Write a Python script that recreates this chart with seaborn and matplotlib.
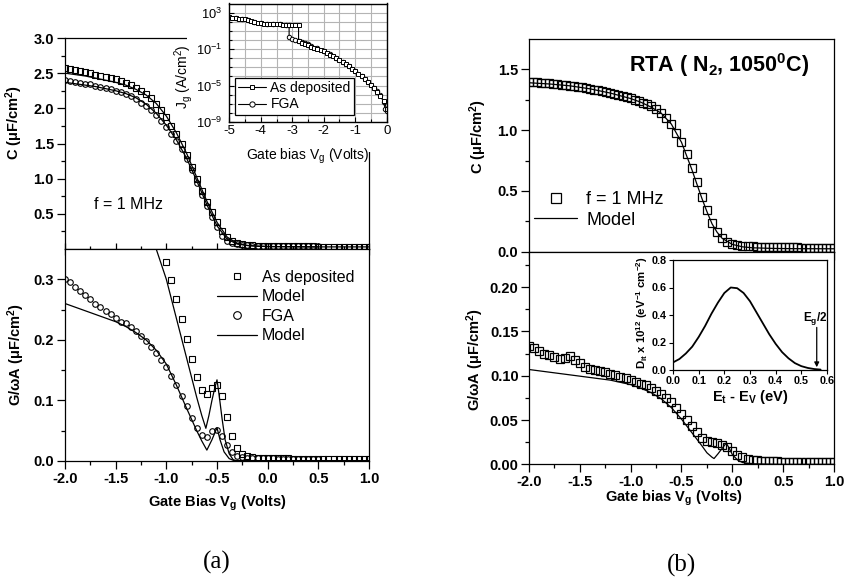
import matplotlib
matplotlib.use("Agg")
import matplotlib.pyplot as plt
import seaborn as sns
from matplotlib.lines import Line2D
from matplotlib.patches import Rectangle

# ---------------- data ----------------
# panel (a) top: C-V
va_c = [-2.00, -1.95, -1.90, -1.85, -1.80, -1.75, -1.70, -1.65, -1.60, -1.55,
        -1.50, -1.45, -1.40, -1.35, -1.30, -1.25, -1.20, -1.15, -1.10, -1.05,
        -1.00, -0.95, -0.90, -0.85, -0.80, -0.75, -0.70, -0.65, -0.60, -0.55,
        -0.50, -0.45, -0.40, -0.35, -0.30, -0.25, -0.20, -0.15, -0.10, -0.05,
        0.00, 0.05, 0.10, 0.15, 0.20, 0.25, 0.30, 0.35, 0.40, 0.45,
        0.50, 0.55, 0.60, 0.65, 0.70, 0.75, 0.80, 0.85, 0.90, 0.95, 1.00]
c_asdep = [2.57, 2.56, 2.54, 2.53, 2.51, 2.50, 2.48, 2.46, 2.45, 2.43,
           2.41, 2.39, 2.36, 2.33, 2.29, 2.25, 2.20, 2.14, 2.06, 1.97,
           1.87, 1.75, 1.63, 1.50, 1.34, 1.17, 1.00, 0.83, 0.67, 0.52,
           0.38, 0.26, 0.17, 0.11, 0.08, 0.065, 0.056, 0.050, 0.046, 0.043,
           0.041, 0.040, 0.039, 0.038, 0.038, 0.037, 0.037, 0.036, 0.036, 0.036,
           0.035, 0.035, 0.035, 0.035, 0.034, 0.034, 0.034, 0.034, 0.034, 0.033, 0.033]
va_c_fga = [-2.00, -1.95, -1.90, -1.85, -1.80, -1.75, -1.70, -1.65, -1.60, -1.55,
            -1.50, -1.45, -1.40, -1.35, -1.30, -1.25, -1.20, -1.15, -1.10, -1.05,
            -1.00, -0.95, -0.90, -0.85, -0.80, -0.75, -0.70, -0.65, -0.60, -0.55,
            -0.50, -0.45, -0.40, -0.35, -0.30, -0.25, -0.20, -0.15, -0.10, -0.05,
            0.00, 0.05, 0.10, 0.15, 0.20, 0.25, 0.30, 0.35, 0.40, 0.45, 0.50]
c_fga = [2.40, 2.39, 2.38, 2.36, 2.35, 2.34, 2.32, 2.31, 2.29, 2.27,
         2.25, 2.23, 2.20, 2.17, 2.13, 2.08, 2.03, 1.97, 1.90, 1.82,
         1.74, 1.64, 1.54, 1.42, 1.28, 1.12, 0.94, 0.77, 0.61, 0.46,
         0.31, 0.19, 0.12, 0.085, 0.065, 0.055, 0.050, 0.047, 0.045, 0.043,
         0.042, 0.041, 0.040, 0.040, 0.039, 0.039, 0.038, 0.038, 0.038, 0.037, 0.037]
vm_c = [-2.0, -1.9, -1.8, -1.7, -1.6, -1.5, -1.4, -1.3, -1.2, -1.1, -1.0, -0.9,
        -0.8, -0.7, -0.6, -0.5, -0.4, -0.3, -0.2, -0.1, 0.0, 0.5, 1.0]
c_model_asdep = [2.50, 2.48, 2.46, 2.43, 2.40, 2.37, 2.33, 2.27, 2.19, 2.07, 1.89, 1.65,
                 1.36, 1.02, 0.68, 0.38, 0.17, 0.08, 0.05, 0.04, 0.035, 0.03, 0.03]
vm_c_fga = [-2.0, -1.9, -1.8, -1.7, -1.6, -1.5, -1.4, -1.3, -1.2, -1.1, -1.0, -0.9,
            -0.8, -0.7, -0.6, -0.5, -0.4, -0.3, -0.2, -0.1, 0.0, 0.5]
c_model_fga = [2.37, 2.35, 2.33, 2.31, 2.28, 2.25, 2.21, 2.15, 2.06, 1.93, 1.76, 1.55,
               1.29, 0.97, 0.63, 0.33, 0.14, 0.07, 0.05, 0.04, 0.035, 0.03]

# panel (a) bottom: G/wA-V
va_g = [-1.00, -0.95, -0.90, -0.85, -0.80, -0.75, -0.70, -0.65, -0.60, -0.55,
        -0.50, -0.45, -0.40, -0.35, -0.30, -0.25, -0.20, -0.15, -0.10, -0.05,
        0.00, 0.05, 0.10, 0.15, 0.20, 0.25, 0.30, 0.35, 0.40, 0.45,
        0.50, 0.55, 0.60, 0.65, 0.70, 0.75, 0.80, 0.85, 0.90, 0.95, 1.00]
g_asdep = [0.328, 0.299, 0.268, 0.235, 0.202, 0.169, 0.138, 0.118, 0.111, 0.121,
           0.125, 0.107, 0.072, 0.041, 0.022, 0.012, 0.008, 0.006, 0.005, 0.005,
           0.0045, 0.0045, 0.0044, 0.0043, 0.0042, 0.0041, 0.004, 0.004, 0.004, 0.0039,
           0.0039, 0.0038, 0.0038, 0.0037, 0.0037, 0.0036, 0.0036, 0.0036, 0.0035, 0.0035, 0.0035]
va_g_fga = va_c_fga
g_fga = [0.301, 0.295, 0.288, 0.281, 0.274, 0.267, 0.260, 0.254, 0.248, 0.242,
         0.236, 0.230, 0.228, 0.222, 0.214, 0.206, 0.198, 0.189, 0.179, 0.167,
         0.155, 0.141, 0.125, 0.108, 0.090, 0.071, 0.054, 0.043, 0.040, 0.049,
         0.051, 0.041, 0.027, 0.015, 0.008, 0.006, 0.005, 0.005, 0.0045, 0.0045,
         0.0042, 0.0042, 0.0041, 0.004, 0.004, 0.004, 0.004, 0.004, 0.004, 0.004, 0.004]
vm_g_asdep = [-1.20, -1.10, -1.00, -0.90, -0.80, -0.70, -0.65, -0.61, -0.58, -0.55,
              -0.52, -0.50, -0.48, -0.45, -0.42, -0.38, -0.34, -0.30, 1.00]
g_model_asdep = [0.405, 0.350, 0.300, 0.235, 0.170, 0.105, 0.075, 0.054, 0.075, 0.100,
                 0.122, 0.134, 0.110, 0.070, 0.035, 0.012, 0.002, 0.0005, 0.0005]
vm_g_fga = [-2.0, -1.9, -1.8, -1.7, -1.6, -1.5, -1.4, -1.3, -1.2, -1.1, -1.0, -0.9,
            -0.8, -0.7, -0.65, -0.6, -0.55, -0.5, -0.47, -0.43, -0.38, -0.33, 1.0]
g_model_fga = [0.260, 0.254, 0.248, 0.242, 0.236, 0.230, 0.222, 0.212, 0.200, 0.183,
               0.160, 0.125, 0.087, 0.050, 0.033, 0.018, 0.035, 0.055, 0.035, 0.015,
               0.004, 0.0005, 0.0005]

# panel (a) inset: leakage current
vj_asdep = [-5.0, -4.9, -4.8, -4.7, -4.6, -4.5, -4.4, -4.3, -4.2, -4.1, -4.0, -3.9,
            -3.8, -3.7, -3.6, -3.5, -3.4, -3.3, -3.2, -3.1, -3.0, -2.9, -2.8, -2.8,
            -2.7, -2.6, -2.5, -2.4, -2.3, -2.2, -2.1, -2.0, -1.9, -1.8, -1.7, -1.6,
            -1.5, -1.4, -1.3, -1.2, -1.1, -1.0, -0.9, -0.8, -0.7, -0.6, -0.5, -0.4,
            -0.3, -0.2, -0.1, 0.0]
jg_asdep = [3.2e2, 2.8e2, 2.5e2, 2.2e2, 2.0e2, 1.8e2, 1.6e2, 1.3e2, 1.0e2, 8.0e1, 7.0e1, 6.3e1,
            6.0e1, 5.7e1, 5.5e1, 5.2e1, 5.0e1, 4.9e1, 4.8e1, 4.7e1, 4.6e1, 4.5e1, 4.4e1, 7.0e-1,
            5.0e-1, 3.6e-1, 2.6e-1, 1.9e-1, 1.4e-1, 1.0e-1, 7.5e-2, 5.5e-2, 3.6e-2, 2.4e-2, 1.6e-2, 1.0e-2,
            6.0e-3, 3.6e-3, 2.2e-3, 1.3e-3, 6.5e-4, 3.5e-4, 1.9e-4, 1.0e-4, 5.0e-5, 2.5e-5, 1.2e-5, 5.5e-6,
            2.2e-6, 8.0e-7, 2.0e-7, 3.0e-8]
vj_fga = [-5.0, -4.8, -4.6, -4.4, -4.2, -4.0, -3.8, -3.6, -3.4, -3.2, -3.1, -3.1,
          -3.0, -2.9, -2.8, -2.7, -2.6, -2.5, -2.4, -2.2, -2.0, -1.8, -1.6, -1.4,
          -1.2, -1.0, -0.8, -0.6, -0.4, -0.3, -0.2, -0.1, -0.05, 0.0]
jg_fga = [3.2e2, 2.5e2, 2.0e2, 1.6e2, 1.0e2, 7.0e1, 6.0e1, 5.5e1, 5.0e1, 4.8e1, 4.7e1, 1.9e0,
          1.3e0, 9.5e-1, 7.5e-1, 6.0e-1, 4.5e-1, 3.4e-1, 2.4e-1, 1.2e-1, 6.0e-2, 2.6e-2, 1.1e-2, 4.0e-3,
          1.4e-3, 4.0e-4, 1.0e-4, 2.7e-5, 6.0e-6, 2.4e-6, 9.0e-7, 1.5e-7, 3.0e-8, 1.6e-8]

# panel (b) top: C-V after RTA
vb_c = [-2.00, -1.96, -1.92, -1.88, -1.84, -1.80, -1.76, -1.72, -1.68, -1.64,
        -1.60, -1.56, -1.52, -1.48, -1.44, -1.40, -1.36, -1.32, -1.28, -1.24,
        -1.20, -1.16, -1.12, -1.08, -1.04, -1.00, -0.96, -0.92, -0.88, -0.84, -0.80,
        -0.75, -0.70, -0.65, -0.60, -0.55, -0.50, -0.45, -0.40, -0.35, -0.30,
        -0.25, -0.20, -0.15, -0.10, -0.05, 0.00, 0.05, 0.10, 0.15,
        0.20, 0.24, 0.28, 0.32, 0.36, 0.40, 0.44, 0.48, 0.52, 0.56,
        0.60, 0.64, 0.68, 0.72, 0.76, 0.80, 0.84, 0.88, 0.92, 0.96, 1.00]
cb = [1.400, 1.398, 1.395, 1.392, 1.389, 1.386, 1.382, 1.378, 1.374, 1.370,
      1.366, 1.361, 1.356, 1.351, 1.346, 1.340, 1.334, 1.328, 1.321, 1.314,
      1.307, 1.299, 1.291, 1.282, 1.273, 1.263, 1.252, 1.240, 1.227, 1.212, 1.196,
      1.17, 1.14, 1.10, 1.05, 0.98, 0.90, 0.80, 0.69, 0.57, 0.45,
      0.34, 0.24, 0.16, 0.11, 0.08, 0.065, 0.056, 0.050, 0.046,
      0.043, 0.041, 0.040, 0.039, 0.038, 0.037, 0.037, 0.036, 0.036, 0.035,
      0.035, 0.035, 0.034, 0.034, 0.034, 0.034, 0.033, 0.033, 0.033, 0.033, 0.033]
vbm_c = [-2.0, -1.8, -1.6, -1.4, -1.2, -1.0, -0.9, -0.8, -0.7, -0.6, -0.5, -0.4,
         -0.3, -0.25, -0.2, -0.15, -0.1, 0.0, 0.1, 0.2, 0.4, 0.6, 1.0]
cb_model = [1.39, 1.38, 1.365, 1.34, 1.305, 1.26, 1.23, 1.19, 1.14, 1.05, 0.90, 0.68,
            0.44, 0.33, 0.23, 0.16, 0.11, 0.06, 0.04, 0.032, 0.027, 0.025, 0.024]

# panel (b) bottom: G/wA-V after RTA
vb_g = [-2.00, -1.95, -1.90, -1.85, -1.80, -1.75, -1.70, -1.65, -1.60, -1.55,
        -1.50, -1.45, -1.40, -1.35, -1.30, -1.25, -1.20, -1.15, -1.10, -1.05,
        -1.00, -0.95, -0.90, -0.85, -0.80, -0.75, -0.70, -0.65, -0.60, -0.55,
        -0.50, -0.45, -0.40, -0.35, -0.30, -0.25, -0.20, -0.15, -0.10, -0.05,
        0.00, 0.05, 0.10, 0.15, 0.20,
        0.24, 0.28, 0.32, 0.36, 0.40, 0.44, 0.48, 0.52, 0.56, 0.60,
        0.64, 0.68, 0.72, 0.76, 0.80, 0.84, 0.88, 0.92, 0.96, 1.00]
gb = [0.133, 0.131, 0.128, 0.125, 0.123, 0.121, 0.119, 0.120, 0.122, 0.118,
      0.114, 0.110, 0.108, 0.106, 0.105, 0.104, 0.102, 0.101, 0.099, 0.097,
      0.095, 0.093, 0.091, 0.089, 0.086, 0.083, 0.079, 0.075, 0.070, 0.063,
      0.057, 0.050, 0.043, 0.036, 0.030, 0.026, 0.025, 0.024, 0.022, 0.019,
      0.015, 0.011, 0.008, 0.006, 0.005,
      0.0045, 0.004, 0.004, 0.0035, 0.0035, 0.0035, 0.003, 0.003, 0.003, 0.003,
      0.003, 0.003, 0.003, 0.003, 0.003, 0.003, 0.003, 0.003, 0.003, 0.003]
vbm_g = [-2.0, -1.8, -1.6, -1.4, -1.2, -1.0, -0.9, -0.8, -0.7, -0.6, -0.5, -0.4,
         -0.3, -0.25, -0.2, -0.18, -0.14, -0.1, -0.06, -0.03, 0.0, 0.05, 0.1, 0.2, 0.5, 1.0]
gb_model = [0.107, 0.104, 0.101, 0.098, 0.095, 0.090, 0.086, 0.081, 0.074, 0.064, 0.051, 0.036,
            0.021, 0.013, 0.008, 0.0065, 0.012, 0.018, 0.024, 0.018, 0.011, 0.005, 0.002, 0.0005, 0.0, 0.0]

# panel (b) inset: interface trap density
et = [0.000, 0.025, 0.050, 0.075, 0.100, 0.125, 0.150, 0.175, 0.200, 0.225, 0.250, 0.275,
      0.300, 0.325, 0.350, 0.375, 0.400, 0.425, 0.450, 0.475, 0.500, 0.525, 0.550, 0.575]
dit = [0.055, 0.08, 0.12, 0.17, 0.24, 0.32, 0.41, 0.49, 0.56, 0.60, 0.595, 0.56,
       0.50, 0.42, 0.34, 0.26, 0.19, 0.13, 0.085, 0.05, 0.028, 0.015, 0.007, 0.003]
eg_half = 0.56

# ---------------- style ----------------
sns.set_theme(style="ticks")
plt.rcParams.update({
    "font.family": ["Liberation Sans", "DejaVu Sans"],
    "mathtext.fontset": "custom",
    "mathtext.rm": "Liberation Sans",
    "mathtext.it": "Liberation Sans:italic",
    "mathtext.bf": "Liberation Sans:bold",
    "mathtext.default": "regular",
    "axes.edgecolor": "black",
    "axes.linewidth": 0.9,
    "xtick.color": "black",
    "ytick.color": "black",
    "text.color": "black",
    "axes.labelcolor": "black",
    "axes.facecolor": "white",
})

W, H = 844, 586
fig = plt.figure(figsize=(W / 100, H / 100), dpi=100)

TICK_FS = 10.5
LABEL_FS = 10.5


def rect(x0, y0, x1, y1):
    return [x0 / W, 1 - y1 / H, (x1 - x0) / W, (y1 - y0) / H]


def pts(ax, x, y, marker, ms, mew=0.8):
    sns.lineplot(x=x, y=y, ax=ax, estimator=None, sort=False, linestyle="none",
                 marker=marker, ms=ms, mfc="none", mec="black", mew=mew, color="black")


def line(ax, x, y, lw=0.9):
    sns.lineplot(x=x, y=y, ax=ax, estimator=None, sort=False, color="black", lw=lw)


def ticks(ax, axis, major, labels, minor, size, weight="bold"):
    if axis == "x":
        ax.set_xticks(major)
        ax.set_xticklabels(labels, fontsize=size, fontweight=weight)
        ax.set_xticks(minor, minor=True)
    else:
        ax.set_yticks(major)
        ax.set_yticklabels(labels, fontsize=size, fontweight=weight)
        ax.set_yticks(minor, minor=True)


xmaj = [-2.0, -1.5, -1.0, -0.5, 0.0, 0.5, 1.0]
xlab = ["-2.0", "-1.5", "-1.0", "-0.5", "0.0", "0.5", "1.0"]
xmin = [-1.75, -1.25, -0.75, -0.25, 0.25, 0.75]

# ---------- panel (a) top ----------
ax1 = fig.add_axes(rect(65, 38, 369, 249))
pts(ax1, va_c_fga, c_fga, "o", 4.0)
pts(ax1, va_c, c_asdep, "s", 3.8)
line(ax1, vm_c, c_model_asdep)
line(ax1, vm_c_fga, c_model_fga)
ax1.set_xlim(-2, 1)
ax1.set_ylim(0, 3.0)
ticks(ax1, "x", xmaj, [""] * 7, xmin, 9)
ticks(ax1, "y", [0.5, 1.0, 1.5, 2.0, 2.5, 3.0], ["0.5", "1.0", "1.5", "2.0", "2.5", "3.0"],
      [0.25, 0.75, 1.25, 1.75, 2.25, 2.75], TICK_FS)
ax1.tick_params(axis="x", which="major", direction="inout", length=8, width=0.9)
ax1.tick_params(axis="x", which="minor", direction="inout", length=5, width=0.9)
ax1.tick_params(axis="y", which="major", direction="out", length=6, width=0.9, pad=2)
ax1.tick_params(axis="y", which="minor", direction="out", length=3, width=0.9)
ax1.set_xlabel("")
ax1.set_ylabel("C (μF/cm$^2$)", fontsize=LABEL_FS, fontweight="bold")
ax1.yaxis.set_label_coords(-0.13, 0.60)
ax1.text(0.21, 0.213, "f = 1 MHz", transform=ax1.transAxes, fontsize=11.5,
         ha="center", va="center")

# ---------- panel (a) bottom ----------
ax2 = fig.add_axes(rect(65, 249, 369, 461))
pts(ax2, va_g_fga, g_fga, "o", 4.0)
pts(ax2, va_g, g_asdep, "s", 3.8)
line(ax2, vm_g_asdep, g_model_asdep)
line(ax2, vm_g_fga, g_model_fga)
ax2.set_xlim(-2, 1)
ax2.set_ylim(0, 0.35)
ticks(ax2, "x", xmaj, xlab, xmin, TICK_FS)
ticks(ax2, "y", [0.0, 0.1, 0.2, 0.3], ["0.0", "0.1", "0.2", "0.3"], [0.05, 0.15, 0.25], TICK_FS)
ax2.tick_params(which="major", direction="out", length=6, width=0.9, pad=2)
ax2.tick_params(which="minor", direction="out", length=3, width=0.9)
ax2.set_xlabel("Gate Bias V$_g$ (Volts)", fontsize=10.5, fontweight="bold")
ax2.set_ylabel("G/ωA (μF/cm$^2$)", fontsize=LABEL_FS, fontweight="bold")
ax2.xaxis.set_label_coords(0.5, -0.155)
ax2.yaxis.set_label_coords(-0.125, 0.5)
hd = [Line2D([], [], ls="none", marker="s", ms=5, mfc="none", mec="black", mew=0.8),
      Line2D([], [], color="black", lw=0.9),
      Line2D([], [], ls="none", marker="o", ms=5.5, mfc="none", mec="black", mew=0.8),
      Line2D([], [], color="black", lw=0.9)]
ax2.legend(hd, ["As deposited", "Model", "FGA", "Model"], loc="upper left",
           bbox_to_anchor=(217 / W, 1 - 270 / H), bbox_transform=fig.transFigure,
           frameon=False, fontsize=11.5, handlelength=2.5, handletextpad=0.3,
           labelspacing=0.28, borderpad=0, borderaxespad=0)

# white backdrop for inset (a)
fig.patches.append(Rectangle((187 / W, 1 - 152 / H), (396 - 187) / W, 152 / H,
                             transform=fig.transFigure, facecolor="white",
                             edgecolor="none", zorder=1))

# ---------- panel (a) inset ----------
ax3 = fig.add_axes(rect(229.3, 3.5, 386.7, 122))
ax3.set_zorder(2)
ax3.set_yscale("log")
sns.lineplot(x=vj_fga, y=jg_fga, ax=ax3, estimator=None, sort=False, color="black", lw=0.8,
             marker="o", ms=3.2, mfc="white", mec="black", mew=0.7)
sns.lineplot(x=vj_asdep, y=jg_asdep, ax=ax3, estimator=None, sort=False, color="black", lw=0.8,
             marker="s", ms=3.0, mfc="white", mec="black", mew=0.7)
ax3.set_xlim(-5, 0)
ax3.set_ylim(1e-9, 1e4)
ax3.set_xticks([-5, -4, -3, -2, -1, 0])
ax3.set_xticklabels(["-5", "-4", "-3", "-2", "-1", "0"], fontsize=9.5)
ax3.set_xticks([-4.5, -3.5, -2.5, -1.5, -0.5], minor=True)
ax3.set_yticks([1e-9, 1e-5, 1e-1, 1e3])
ax3.set_yticklabels(["10$^{-9}$", "10$^{-5}$", "10$^{-1}$", "10$^{3}$"], fontsize=9.3)
ax3.set_yticks([1e-8, 1e-7, 1e-6, 1e-4, 1e-3, 1e-2, 1e0, 1e1, 1e2], minor=True)
ax3.yaxis.set_minor_formatter(plt.NullFormatter())
ax3.grid(True, which="both", color="#b4b4b4", lw=0.8)
ax3.set_axisbelow(True)
ax3.tick_params(which="major", direction="in", length=3.5, width=0.8)
ax3.tick_params(which="minor", direction="in", length=2, width=0.8)
ax3.tick_params(axis="y", which="major", pad=5)
ax3.tick_params(axis="x", which="major", pad=2.5)
for s in ax3.spines.values():
    s.set_linewidth(1.0)
ax3.set_xlabel("Gate bias V$_g$ (Volts)", fontsize=10)
ax3.set_ylabel("J$_g$ (A/cm$^2$)", fontsize=10)
ax3.xaxis.set_label_coords(0.5, -0.21)
ax3.yaxis.set_label_coords(-0.22, 0.38)
hd3 = [Line2D([], [], color="black", lw=0.8, marker="s", ms=3.5, mfc="white", mec="black", mew=0.7),
       Line2D([], [], color="black", lw=0.8, marker="o", ms=3.8, mfc="white", mec="black", mew=0.7)]
leg3 = ax3.legend(hd3, ["As deposited", "FGA"], loc="lower left",
                  bbox_to_anchor=(0.036, 0.06), fontsize=10, frameon=True, fancybox=False,
                  edgecolor="black", framealpha=1, handlelength=2.0, handletextpad=0.3,
                  labelspacing=0.15, borderpad=0.25, borderaxespad=0)
leg3.get_frame().set_linewidth(0.9)

# ---------- panel (b) top ----------
ax4 = fig.add_axes(rect(529, 39, 834, 251.7))
pts(ax4, vb_c, cb, "s", 5.4, mew=0.9)
line(ax4, vbm_c, cb_model)
ax4.set_xlim(-2, 1)
ax4.set_ylim(0, 1.75)
ticks(ax4, "x", xmaj, [""] * 7, xmin, 9)
ticks(ax4, "y", [0.0, 0.5, 1.0, 1.5], ["0.0", "0.5", "1.0", "1.5"], [0.25, 0.75, 1.25], TICK_FS)
ax4.tick_params(which="major", direction="out", length=6, width=0.9, pad=2)
ax4.tick_params(which="minor", direction="out", length=3, width=0.9)
ax4.set_xlabel("")
ax4.set_ylabel("C (μF/cm$^2$)", fontsize=LABEL_FS, fontweight="bold")
ax4.yaxis.set_label_coords(-0.13, 0.54)
ax4.text(0.623, 0.878, "RTA ( N$_2$, 1050$^0$C)", transform=ax4.transAxes,
         fontsize=15.5, fontweight="bold", ha="center", va="center")
hd4 = [Line2D([], [], ls="none", marker="s", ms=6.5, mfc="none", mec="black", mew=0.9),
       Line2D([], [], color="black", lw=0.9)]
ax4.legend(hd4, ["f = 1 MHz", "Model"], loc="upper left",
           bbox_to_anchor=(534 / W, 1 - 191 / H), bbox_transform=fig.transFigure,
           frameon=False, fontsize=13, handlelength=2.4, handletextpad=0.5,
           labelspacing=0.2, borderpad=0, borderaxespad=0)

# ---------- panel (b) bottom ----------
ax5 = fig.add_axes(rect(529, 251.7, 834, 464.3))
pts(ax5, vb_g, gb, "s", 5.4, mew=0.9)
line(ax5, vbm_g, gb_model)
ax5.set_xlim(-2, 1)
ax5.set_ylim(0, 0.24)
ticks(ax5, "x", xmaj, xlab, xmin, TICK_FS)
ticks(ax5, "y", [0.0, 0.05, 0.10, 0.15, 0.20], ["0.00", "0.05", "0.10", "0.15", "0.20"],
      [0.025, 0.075, 0.125, 0.175, 0.225], TICK_FS)
ax5.tick_params(which="major", direction="out", length=6, width=0.9, pad=1.5)
ax5.tick_params(which="minor", direction="out", length=3, width=0.9)
ax5.set_xlabel("Gate bias V$_g$ (Volts)", fontsize=10.5, fontweight="bold")
ax5.set_ylabel("G/ωA (μF/cm$^2$)", fontsize=LABEL_FS, fontweight="bold")
ax5.xaxis.set_label_coords(0.475, -0.115)
ax5.yaxis.set_label_coords(-0.14, 0.49)

# ---------- panel (b) inset ----------
ax6 = fig.add_axes(rect(673, 260, 827, 370))
ax6.set_zorder(2)
line(ax6, et, dit, lw=1.3)
ax6.set_xlim(0, 0.6)
ax6.set_ylim(0, 0.8)
ax6.set_xticks([0.0, 0.1, 0.2, 0.3, 0.4, 0.5, 0.6])
ax6.set_xticklabels(["0.0", "0.1", "0.2", "0.3", "0.4", "0.5", "0.6"], fontsize=7.8, fontweight="bold")
ax6.set_yticks([0.0, 0.2, 0.4, 0.6, 0.8])
ax6.set_yticklabels(["0.0", "0.2", "0.4", "0.6", "0.8"], fontsize=7.8, fontweight="bold")
ax6.tick_params(direction="out", length=3, width=0.8, pad=1.5)
ax6.set_xlabel("E$_\\mathbf{t}$ - E$_V$ (eV)", fontsize=10.5, fontweight="bold")
ax6.set_ylabel("D$_{it}$ x 10$^{12}$ (eV$^{-1}$ cm$^{-2}$)", fontsize=8.2, fontweight="bold")
ax6.xaxis.set_label_coords(0.5, -0.16)
ax6.yaxis.set_label_coords(-0.15, 0.52)
ax6.annotate("", xy=(eg_half, 0.0), xytext=(eg_half, 0.33),
             arrowprops=dict(arrowstyle="-|>", color="black", lw=0.9, mutation_scale=7))
ax6.text(eg_half - 0.005, 0.375, "E$_g$/2", fontsize=8.5, fontweight="bold",
         ha="center", va="center")

# ---------- panel labels ----------
fig.text(217 / W, 1 - 562 / H, "(a)", fontsize=18, family=["Liberation Serif", "DejaVu Serif"],
         ha="center", va="center")
fig.text(681 / W, 1 - 565 / H, "(b)", fontsize=18, family=["Liberation Serif", "DejaVu Serif"],
         ha="center", va="center")

fig.savefig("out.png", dpi=100)
